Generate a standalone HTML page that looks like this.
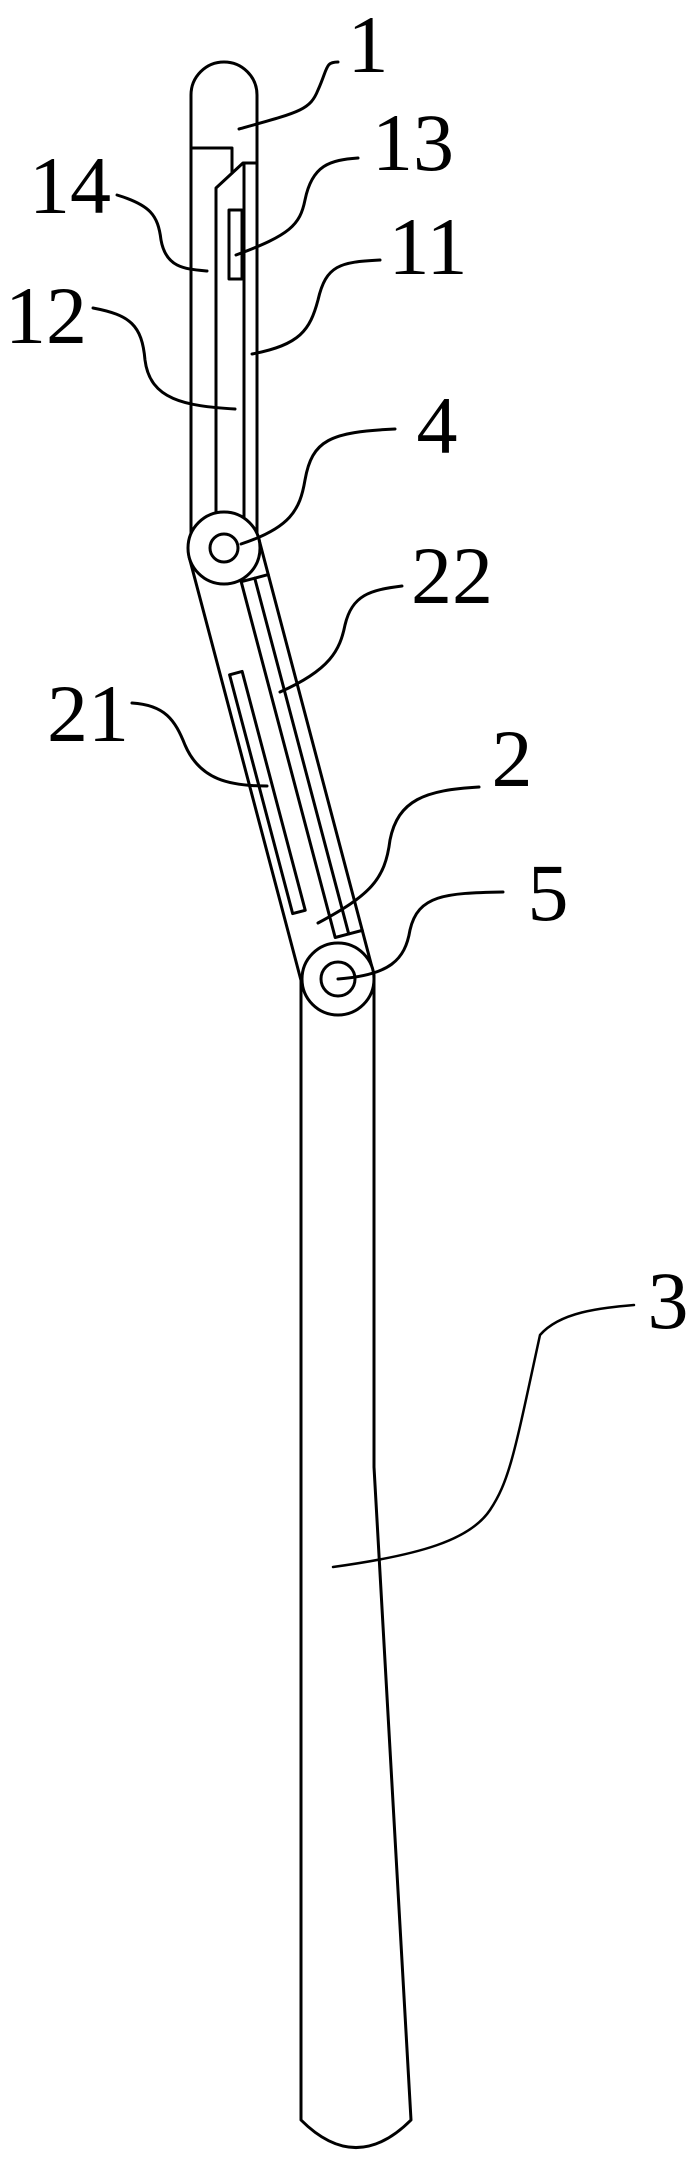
<!DOCTYPE html>
<html><head><meta charset="utf-8"><style>
html,body{margin:0;padding:0;background:#fff;}
svg{display:block;}
text{font-family:"Liberation Serif",serif;font-size:82px;fill:#000;}
</style></head><body>
<svg width="686" height="2167" viewBox="0 0 686 2167" xmlns="http://www.w3.org/2000/svg">
<g fill="none" stroke="#000" stroke-width="3" stroke-linecap="round" stroke-linejoin="round">
<!-- rod 3 -->
<path d="M301,975 L301,2120 Q356,2175 411,2120 L374,1467 L374,975"/>
<!-- link 2 -->
<g transform="translate(224,548) rotate(-14.8)">
<rect x="-36" y="0" width="72" height="446" fill="#fff"/>
<rect x="8" y="37" width="14" height="368"/>
<line x1="22" y1="37" x2="36" y2="37"/>
<line x1="22" y1="405" x2="36" y2="405"/>
<rect x="-27" y="124" width="13" height="247"/>
</g>
<!-- part 1 -->
<path d="M191,548 L191,95 A33,33 0 0 1 257,95 L257,548"/>
<path d="M191,148 L232,148 L232,173"/>
<path d="M216,520 L216,188 L243,163 L257,163"/>
<line x1="244" y1="163" x2="244" y2="520"/>
<rect x="229" y="210" width="13" height="69"/>
<!-- joints -->
<circle cx="224" cy="548" r="36" fill="#fff"/>
<circle cx="224" cy="548" r="14"/>
<circle cx="338" cy="979" r="36" fill="#fff"/>
<circle cx="338" cy="979" r="17"/>
<!-- leaders -->
<path d="M239,129 C300,112 310,110 318,90 C328,68 325,62 338,62"/>
<path d="M236,255 C290,235 300,225 305,200 C312,165 330,160 358,158"/>
<path d="M252,354 C300,345 310,330 318,300 C326,265 340,262 380,260"/>
<path d="M241,544 C290,528 300,510 305,480 C312,440 330,432 395,429"/>
<path d="M117,195 C150,205 158,215 161,240 C166,268 185,269 207,271"/>
<path d="M93,308 C130,315 142,325 145,360 C150,400 185,406 235,409"/>
<path d="M280,692 C330,670 340,650 345,625 C352,595 370,590 402,586"/>
<path d="M132,703 C165,705 175,720 185,745 C200,780 230,786 267,786"/>
<path d="M318,923 C370,895 385,880 390,840 C398,800 425,790 479,787"/>
<path d="M338,979 C390,975 405,960 410,930 C418,895 445,893 503,892"/>
<path d="M333,1567 C420,1555 470,1540 490,1510 C510,1480 515,1450 540,1335 C560,1312 600,1308 634,1305" stroke-width="2.5"/>
</g>
<g text-anchor="middle">
<text x="368" y="72">1</text>
<text x="413" y="170">13</text>
<text x="428" y="274">11</text>
<text x="437" y="453">4</text>
<text x="70" y="213">14</text>
<text x="46" y="343">12</text>
<text x="452" y="603">22</text>
<text x="88" y="741">21</text>
<text x="512" y="786">2</text>
<text x="548" y="920">5</text>
<text x="668" y="1328">3</text>
</g>
</svg>
</body></html>
